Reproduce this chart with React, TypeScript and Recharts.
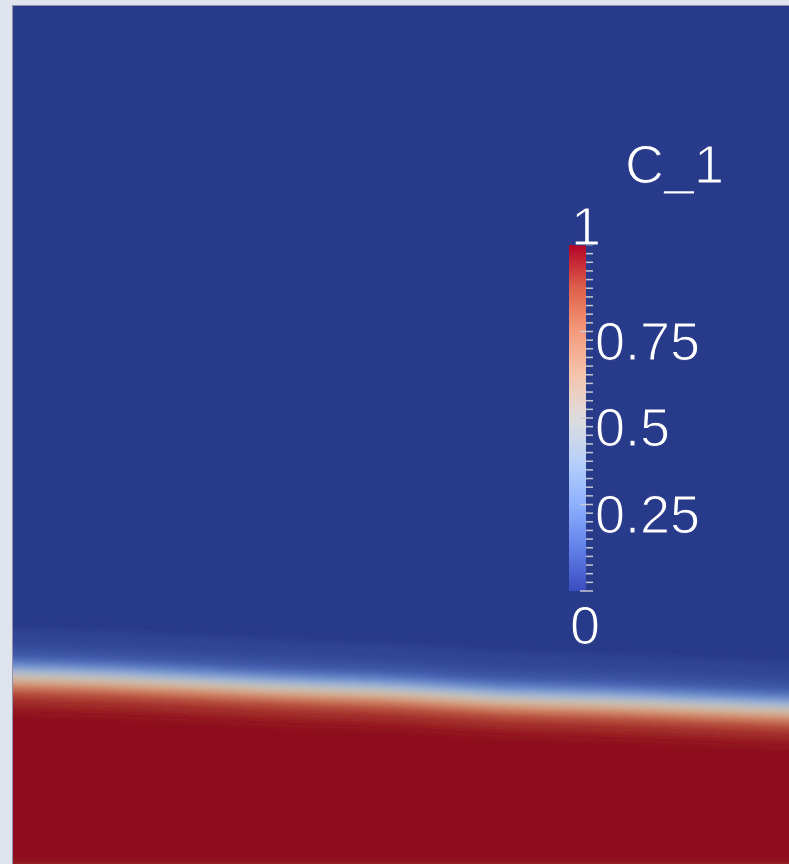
import React from "react"
import {
  ComposedChart, Area, XAxis, YAxis, CartesianGrid,
  BarChart, Bar
} from "recharts"

// sample positions across the domain (fraction of width)
const xPos = [0, 0.125, 0.25, 0.375, 0.5, 0.625, 0.75, 0.875, 1]
// height of the C_1 = 0.5 interface at each sample
const interfaceHeight = [0.239, 0.235, 0.229, 0.223, 0.218, 0.21, 0.206, 0.201, 0.196]

// concentration levels and how far above (+) / below (-) the interface each sits
const levels = [0.02, 0.05, 0.1, 0.15, 0.2, 0.25, 0.3, 0.35, 0.4, 0.45, 0.5, 0.55, 0.6, 0.65, 0.7, 0.75, 0.8, 0.85, 0.9, 0.95, 0.98]
const levelOffset = [0.062, 0.041, 0.029, 0.023, 0.019, 0.015, 0.012, 0.009, 0.0064, 0.0032, 0, -0.0033, -0.006, -0.0088, -0.0118, -0.0147, -0.018, -0.0222, -0.0278, -0.036, -0.045]

// cool-to-warm map; the lit surface is darker than the legend bar
const mapStops = [0, 0.125, 0.25, 0.375, 0.5, 0.625, 0.75, 0.875, 1]
const barColors = ["#3b4cc0", "#6282ea", "#8db0fe", "#b8d0f9", "#dddddd", "#f5c4ad", "#f49a7b", "#de604d", "#b40426"]
const fieldColors = ["#283a8a", "#4660b0", "#6a8ccc", "#9cb2d6", "#c8c4b8", "#d6a68a", "#cc7a5c", "#ae4034", "#8e111b"]

const barTickLabels = ["0", "0.25", "0.5", "0.75", "1"]
const barTickValues = [0, 0.25, 0.5, 0.75, 1]

const W = 789
const H = 864

function hexToRgb(h: string) {
  return [1, 3, 5].map((i) => parseInt(h.slice(i, i + 2), 16))
}

function mapColor(v: number, colors: string[]) {
  let i = 0
  while (i < mapStops.length - 2 && v > mapStops[i + 1]) i++
  const t = (v - mapStops[i]) / (mapStops[i + 1] - mapStops[i])
  const a = hexToRgb(colors[i])
  const b = hexToRgb(colors[i + 1])
  const c = a.map((ch, k) => Math.round(ch + (b[k] - ch) * t))
  return `rgb(${c[0]},${c[1]},${c[2]})`
}

const fieldRows = xPos.map((x, i) => {
  const row: Record<string, number> = { x }
  levels.forEach((lv, k) => {
    row[`c${k}`] = interfaceHeight[i] + levelOffset[k]
  })
  return row
})

// colour of the band lying just below each contour line
const bandColor = levels.map((lv, k) => {
  const next = k < levels.length - 1 ? levels[k + 1] : 1
  return mapColor(k < levels.length - 1 ? (lv + next) / 2 : 1, fieldColors)
})

const barTicks: number[] = []
for (let i = 0; i <= 40; i++) barTicks.push(i / 40)

const labelFont = "'Liberation Sans', Arial, sans-serif"
// a thin outline in the background colour keeps the glyph strokes light
const labelStyle = {
  fill: "#ffffff",
  fontSize: 54,
  fontFamily: labelFont,
  stroke: fieldColors[0],
  strokeWidth: 1.2,
}

function BarTick(props: any) {
  const { x, y, payload } = props
  const v: number = payload.value
  const idx = barTickValues.findIndex((t) => Math.abs(t - v) < 1e-6)
  const major = idx >= 0 && v < 1
  let label = null
  if (idx >= 0) {
    let tx = x + 9
    let ty = y + 28
    if (v === 1) { tx = x - 15; ty = y }
    if (v === 0) { tx = x - 16; ty = y + 53 }
    label = (
      <text x={tx} y={ty} style={labelStyle}>
        {barTickLabels[idx]}
      </text>
    )
  }
  return (
    <g>
      <line x1={major ? x - 6 : x} x2={x + 7} y1={y} y2={y} stroke="#c6c9d4" strokeWidth={1.5} />
      {label}
    </g>
  )
}

export default function App() {
  return (
    <div style={{ position: "absolute", left: 0, top: 0, width: W, height: H, background: "#dfe3ee", overflow: "hidden" }}>
      <div style={{ position: "absolute", left: 12, top: 5, width: W, height: H, borderTop: "1px solid #8e93ab", borderLeft: "1px solid #8e93ab" }} />
      <div style={{ position: "absolute", left: 0, top: 0 }}>
        <ComposedChart width={W} height={H} data={fieldRows} margin={{ top: 6, left: 13, right: 0, bottom: 0 }}>
          <defs>
            {/* vertical-only smoothing so the contour bands read as a continuous field */}
            <filter id="soft" filterUnits="objectBoundingBox" x="0" y="-0.15" width="1" height="1.3">
              <feGaussianBlur stdDeviation="0 3.5" />
            </filter>
          </defs>
          <CartesianGrid horizontal={false} vertical={false} fill={fieldColors[0]} />
          <XAxis dataKey="x" type="number" domain={[0, 1]} hide />
          <YAxis type="number" domain={[0, 1.1]} hide allowDataOverflow />
          {levels.map((lv, k) => (
            <Area
              key={lv}
              dataKey={`c${k}`}
              type="natural"
              baseValue={0}
              fill={bandColor[k]}
              fillOpacity={1}
              stroke="none"
              filter="url(#soft)"
              dot={false}
              activeDot={false}
              isAnimationActive={false}
            />
          ))}
        </ComposedChart>
      </div>
      <div style={{ position: "absolute", left: 560, top: 100 }}>
        <BarChart width={229} height={564} data={[{ name: "C_1", v: 1 }]}
          margin={{ top: 145, left: 9, right: 63, bottom: 73 }} barCategoryGap={0}>
          <defs>
            <linearGradient id="cbar" x1="0" y1="1" x2="0" y2="0">
              {mapStops.map((s, i) => (
                <stop key={s} offset={s} stopColor={barColors[i]} />
              ))}
            </linearGradient>
          </defs>
          <XAxis dataKey="name" hide />
          <YAxis orientation="right" type="number" domain={[0, 1]} ticks={barTicks} interval={0}
            width={140} tickSize={0} tickMargin={0} axisLine={false} tickLine={false}
            tick={<BarTick />} />
          <Bar dataKey="v" fill="url(#cbar)" isAnimationActive={false} />
          <text x={65} y={83} style={labelStyle}>C_1</text>
        </BarChart>
      </div>
    </div>
  )
}
